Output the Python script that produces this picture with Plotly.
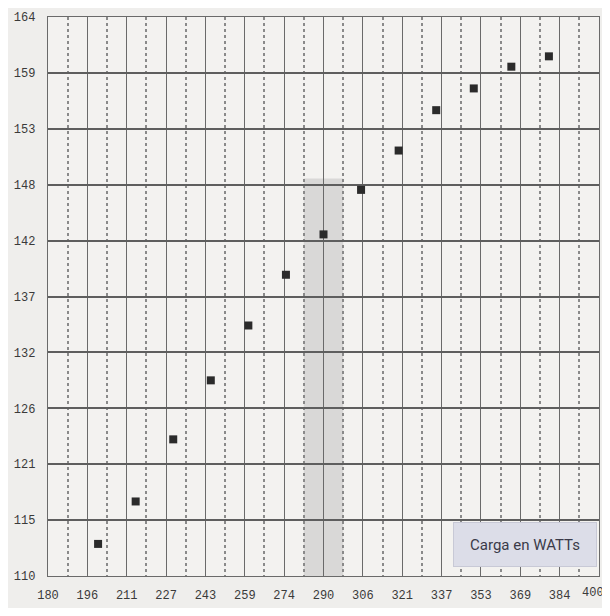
import plotly.graph_objects as go

# Data
carga_watts = [200, 215, 230, 245, 260, 275, 290, 305, 320, 335, 350, 365, 380]
valores = [113.1, 117.2, 123.2, 128.9, 134.2, 139.1, 143.0, 147.3, 151.1, 155.0, 157.1, 159.2, 160.2]

x_ticktext = ["180", "196", "211", "227", "243", "259", "274", "290", "306", "321",
              "337", "353", "369", "384", "400"]
y_ticktext = ["110", "115", "121", "126", "132", "137", "142", "148", "153", "159", "164"]

x_min, x_max = 180, 400
y_min, y_max = 110, 164
band_center = 290
legend_text = "Carga en WATTs"

x_step = (x_max - x_min) / (len(x_ticktext) - 1)
y_step = (y_max - y_min) / (len(y_ticktext) - 1)
x_tickvals = [x_min + i * x_step for i in range(len(x_ticktext))]
y_tickvals = [y_min + i * y_step for i in range(len(y_ticktext))]

# the last x label is placed as an annotation (right-anchored) so it stays on the page
x_ticktext_axis = x_ticktext[:-1] + [""]

fig = go.Figure()

fig.add_trace(go.Scatter(
    x=carga_watts, y=valores, mode="markers",
    marker=dict(symbol="square", size=8, color="#2b2b2b",
                line=dict(width=0)),
    showlegend=False, hoverinfo="x+y",
))

# shaded band around 290
fig.add_shape(type="rect", xref="x", yref="y",
              x0=band_center - x_step / 2, x1=band_center + x_step / 2,
              y0=y_min, y1=148.4,
              fillcolor="rgba(150,150,150,0.28)", line=dict(width=0),
              layer="below")

tick_font = dict(family="Liberation Mono, DejaVu Sans Mono, monospace", size=12, color="#3a3a3a")

fig.add_annotation(
    xref="paper", yref="paper", x=1, y=0,
    xanchor="right", yanchor="top", xshift=7, yshift=-8,
    text=x_ticktext[-1], showarrow=False,
    font=dict(family="Liberation Mono, DejaVu Sans Mono, monospace", size=12, color="#3a3a3a"),
)

fig.add_annotation(
    xref="paper", yref="paper", x=0.866, y=0.057,
    text=legend_text, showarrow=False,
    font=dict(family="Roboto, sans-serif", size=15, color="#3a3a48"),
    bgcolor="#dcdde8", bordercolor="#c8c9d6", borderwidth=1,
    width=140, height=41, xanchor="center", yanchor="middle",
)

fig.update_xaxes(
    range=[x_min, x_max], tickmode="array", tickvals=x_tickvals, ticktext=x_ticktext_axis,
    showgrid=True, gridcolor="#6a6a6a", gridwidth=1.4,
    minor=dict(tickmode="array",
               tickvals=[v + x_step / 2 for v in x_tickvals[:-1]],
               showgrid=True, gridcolor="#8a8a8a", gridwidth=1.6, griddash="dot",
               ticks=""),
    zeroline=False, showline=True, linecolor="#6a6a6a", linewidth=1.4, mirror=True,
    ticks="", tickfont=tick_font, ticklabelstandoff=7,
    fixedrange=True, automargin=False,
)
fig.update_yaxes(
    range=[y_min, y_max], tickmode="array", tickvals=y_tickvals, ticktext=y_ticktext,
    showgrid=True, gridcolor="#5e5e5e", gridwidth=1.5,
    zeroline=False, showline=True, linecolor="#6a6a6a", linewidth=1.4, mirror=True,
    ticks="", tickfont=tick_font, ticklabelstandoff=9, fixedrange=True,
    automargin=False,
)

fig.update_layout(
    width=602, height=600,
    margin=dict(l=40, r=11, t=9, b=32),
    paper_bgcolor="#efeeec", plot_bgcolor="#f3f2f0",
    showlegend=False,
)

fig.write_html("out.html")
